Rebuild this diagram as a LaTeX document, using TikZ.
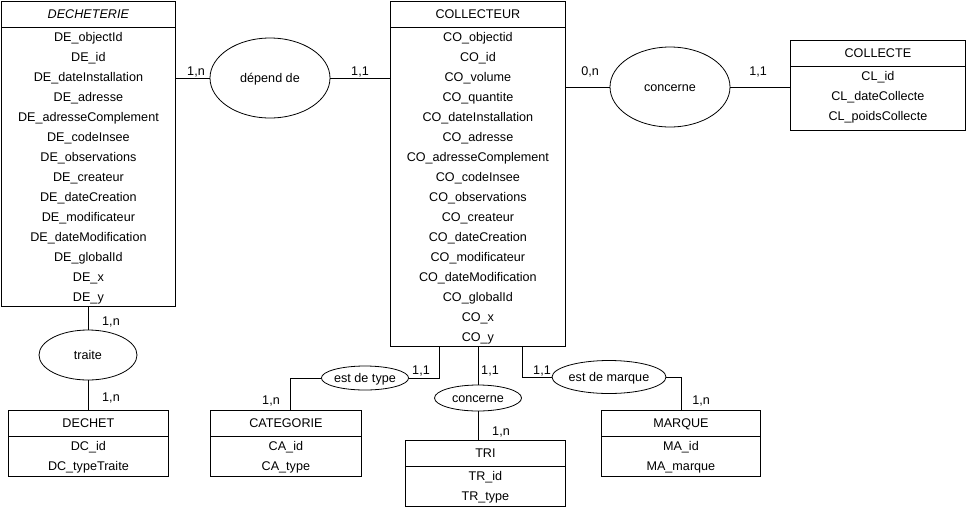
\documentclass[tikz,border=0pt]{standalone}
\usepackage{fontspec}
\setmainfont{Liberation Sans}
\usetikzlibrary{shapes.geometric,calc}
\tikzset{
  ent/.style={draw, rectangle, inner sep=0pt, line width=0.8pt},
  txt/.style={inner sep=0pt, text height=9pt, text depth=0pt, font=\fontsize{12.6}{14}\selectfont},
  rel/.style={draw, ellipse, txt, line width=0.8pt},
  link/.style={line width=0.8pt},
  card/.style={txt}
}
\newcommand\erentity[7]{%
  \node[ent, minimum width=#4pt, minimum height=#5pt, anchor=north west] (#1) at (#2,#3) {};
  \draw[link] ($(#1.north west)+(0,26)$) -- ($(#1.north east)+(0,26)$);
  \node[txt] (#1-t) at ($(#1.north)+(0,13)$) {#6};
  \foreach \a [count=\i] in {#7} {\node[txt] (#1-\i) at ($(#1.north)+(0,16+20*\i)$) {\a};}
}
\begin{document}
\begin{tikzpicture}[x=1pt,y=-1pt]
\useasboundingbox (0,0) rectangle (966,507);
% entities
\erentity{dech}{1}{1}{174}{305}{\textit{DECHETERIE}}{DE\_objectId,DE\_id,DE\_dateInstallation,DE\_adresse,DE\_adresseComplement,DE\_codeInsee,DE\_observations,DE\_createur,DE\_dateCreation,DE\_modificateur,DE\_dateModification,DE\_globalId,DE\_x,DE\_y}
\erentity{coll}{390}{1}{175}{345}{COLLECTEUR}{CO\_objectid,CO\_id,CO\_volume,CO\_quantite,CO\_dateInstallation,CO\_adresse,CO\_adresseComplement,CO\_codeInsee,CO\_observations,CO\_createur,CO\_dateCreation,CO\_modificateur,CO\_dateModification,CO\_globalId,CO\_x,CO\_y}
\erentity{colte}{790}{40}{175}{90}{COLLECTE}{CL\_id,CL\_dateCollecte,CL\_poidsCollecte}
\erentity{dechet}{8}{410}{160}{66}{DECHET}{DC\_id,DC\_typeTraite}
\erentity{cat}{210}{410}{151}{66}{CATEGORIE}{CA\_id,CA\_type}
\erentity{tri}{405}{440}{160}{66}{TRI}{TR\_id,TR\_type}
\erentity{marq}{601}{410}{159}{66}{MARQUE}{MA\_id,MA\_marque}
% relations
\node[rel, minimum width=120pt, minimum height=80pt] (dep) at (270,78) {dépend de};
\node[rel, minimum width=120pt, minimum height=80pt] (conc) at (670,87) {concerne};
\node[rel, minimum width=98pt, minimum height=50pt] (traite) at (88,355) {traite};
\node[rel, minimum width=87pt, minimum height=24pt] (type) at (365,378) {est de type};
\node[rel, minimum width=87pt, minimum height=26pt] (conct) at (478,398) {concerne};
\node[rel, minimum width=88pt, minimum height=33pt] (marque) at (609,377) {est de marque};
% connectors
\draw[link] (dech.east |- dep.west) -- (dep.west);
\draw[link] (dep.east) -- (coll.west |- dep.east);
\draw[link] (coll.east |- conc.west) -- (conc.west);
\draw[link] (conc.east) -- (colte.west |- conc.east);
\draw[link] (dech.south -| traite.north) -- (traite.north);
\draw[link] (traite.south) -- (dechet.north -| traite.south);
\coordinate (catin) at ($(cat.north west)+(80,0)$);
\coordinate (colltype) at ($(coll.south west)+(49,0)$);
\coordinate (collmarq) at ($(coll.south west)+(132,0)$);
\draw[link] (catin) |- (type.west);
\draw[link] (type.east) -| (colltype);
\draw[link] (coll.south -| conct.north) -- (conct.north);
\draw[link] (conct.south) -- (tri.north -| conct.south);
\draw[link] (collmarq) |- (marque.west);
\draw[link] (marque.east) -| (marq.north);
% cardinalities
\node[card] (c1) at (196,71) {1,n};
\node[card] (c2) at (360,71) {1,1};
\node[card] (c3) at (590,71) {0,n};
\node[card] (c4) at (758,71) {1,1};
\node[card] (c5) at (111,321) {1,n};
\node[card] (c6) at (111,397) {1,n};
\node[card] (c7) at (271,400) {1,n};
\node[card] (c8) at (421,370) {1,1};
\node[card] (c9) at (490,370) {1,1};
\node[card] (c10) at (501,431) {1,n};
\node[card] (c11) at (542,370) {1,1};
\node[card] (c12) at (701,400) {1,n};
\end{tikzpicture}
\end{document}
